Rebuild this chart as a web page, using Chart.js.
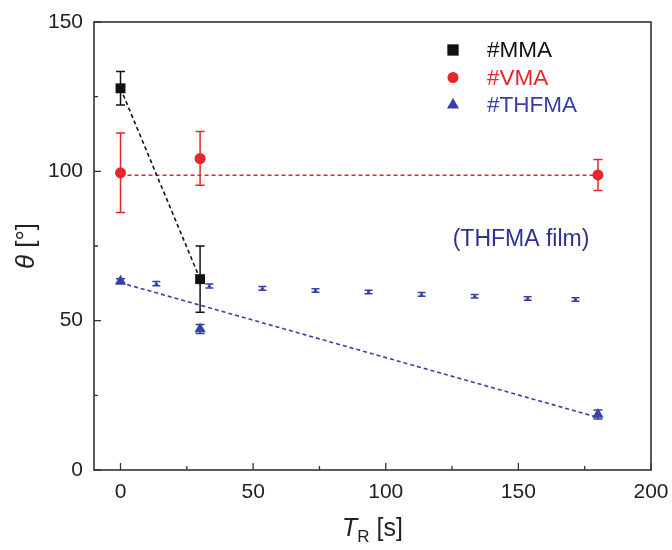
<!DOCTYPE html>
<html lang="en">
<head>
<meta charset="UTF-8">
<title>Contact angle vs reaction time</title>
<script src="https://cdn.jsdelivr.net/npm/chart.js"></script>
<style>
  html, body { margin: 0; padding: 0; background: #fff; }
</style>
</head>
<body>
<canvas id="chart" width="672" height="550"></canvas>
<script>
// reaction time T_R [s] and contact angle theta [deg]
const mmaX = [0, 30];
const mmaY = [127.8, 63.9];
const mmaErr = [5.6, 11.1];

const vmaX = [0, 30, 180];
const vmaY = [99.5, 104.3, 98.8];
const vmaErr = [13.3, 9.0, 5.2];

const thfmaX = [0, 30, 180];
const thfmaY = [63.2, 47.2, 18.6];
const thfmaErr = [0.8, 1.5, 1.5];

// THFMA film reference series
const filmX = [13.5, 33.5, 53.5, 73.5, 93.5, 113.5, 133.5, 153.5, 171.5];
const filmY = [62.4, 61.6, 60.8, 60.1, 59.6, 58.8, 58.2, 57.4, 57.1];
const filmErr = [0.7, 0.7, 0.6, 0.6, 0.6, 0.6, 0.6, 0.6, 0.6];

// dashed guide lines
const mmaFitX = [0, 30];
const mmaFitY = [127.8, 63.9];
const vmaFitX = [0, 180];
const vmaFitY = [98.7, 98.7];
const thfmaFitX = [0, 180];
const thfmaFitY = [62.7, 17.6];

const xTicks = [0, 50, 100, 150, 200];
const yTicks = [0, 50, 100, 150];
const xMinor = [25, 75, 125, 175];
const yMinor = [25, 75, 125];

const BLACK = '#111111';
const RED = '#e5262b';
const BLUE = '#3641a8';
const NAVY = '#2e3192';
const FONT = '"Liberation Sans", Arial, sans-serif';

function pts(xs, ys) {
    return xs.map((x, i) => ({ x: x, y: ys[i] }));
}

function dashed(xs, ys, color) {
    return {
        data: pts(xs, ys),
        showLine: true,
        borderColor: color,
        borderWidth: 1.6,
        borderDash: [4, 3],
        pointRadius: 0,
        order: 5
    };
}

// error bars drawn under the markers
const errorBars = {
    id: 'errorBars',
    beforeDatasetsDraw(chart) {
        const ctx = chart.ctx, ys = chart.scales.y;
        chart.data.datasets.forEach((ds, i) => {
            if (!ds.err) return;
            const meta = chart.getDatasetMeta(i);
            ctx.save();
            ctx.strokeStyle = ds.borderColor;
            ctx.lineWidth = 1.5;
            meta.data.forEach((p, j) => {
                const v = ds.data[j].y, e = ds.err[j];
                const top = ys.getPixelForValue(v + e), bot = ys.getPixelForValue(v - e);
                const w = ds.capWidth / 2;
                ctx.beginPath();
                ctx.moveTo(p.x, top); ctx.lineTo(p.x, bot);
                ctx.moveTo(p.x - w, top); ctx.lineTo(p.x + w, top);
                ctx.moveTo(p.x - w, bot); ctx.lineTo(p.x + w, bot);
                ctx.stroke();
            });
            ctx.restore();
        });
    }
};

function marker(ctx, style, x, y, r) {
    ctx.beginPath();
    if (style === 'rect') {
        const s = r * Math.SQRT1_2;
        ctx.rect(x - s, y - s, 2 * s, 2 * s);
    } else if (style === 'circle') {
        ctx.arc(x, y, r, 0, Math.PI * 2);
    } else {
        const w = r * Math.sqrt(3) / 2;
        ctx.moveTo(x, y - r);
        ctx.lineTo(x + w, y + r / 2);
        ctx.lineTo(x - w, y + r / 2);
        ctx.closePath();
    }
    ctx.fill();
}

// frame, inward ticks, axis titles, legend and annotation
const decor = {
    id: 'decor',
    afterDraw(chart) {
        const { ctx, chartArea: a, scales: { x, y } } = chart;
        ctx.save();
        ctx.strokeStyle = '#333';
        ctx.lineWidth = 1.6;
        ctx.strokeRect(a.left, a.top, a.right - a.left, a.bottom - a.top);

        ctx.lineWidth = 1.3;
        ctx.beginPath();
        xTicks.forEach(v => { const px = x.getPixelForValue(v); ctx.moveTo(px, a.bottom); ctx.lineTo(px, a.bottom - 7); });
        xMinor.forEach(v => { const px = x.getPixelForValue(v); ctx.moveTo(px, a.bottom); ctx.lineTo(px, a.bottom - 4); });
        yTicks.forEach(v => { const py = y.getPixelForValue(v); ctx.moveTo(a.left, py); ctx.lineTo(a.left + 7, py); });
        yMinor.forEach(v => { const py = y.getPixelForValue(v); ctx.moveTo(a.left, py); ctx.lineTo(a.left + 4, py); });
        ctx.stroke();

        // y title: theta [deg]
        ctx.fillStyle = '#222';
        ctx.textBaseline = 'middle';
        ctx.save();
        ctx.translate(27, (a.top + a.bottom) / 2);
        ctx.rotate(-Math.PI / 2);
        ctx.font = 'italic 26px ' + FONT;
        const th = 'θ', rest = ' [°]';
        const w1 = ctx.measureText(th).width;
        ctx.font = '26px ' + FONT;
        const w2 = ctx.measureText(rest).width;
        const sx = -(w1 + w2) / 2;
        ctx.textAlign = 'left';
        ctx.font = 'italic 26px ' + FONT;
        ctx.fillText(th, sx, 0);
        ctx.font = '26px ' + FONT;
        ctx.fillText(rest, sx + w1, 0);
        ctx.restore();

        // x title: T_R [s]
        const cx = (a.left + a.right) / 2, cy = 529;
        ctx.textAlign = 'left';
        ctx.font = 'italic 25px ' + FONT;
        const tw = ctx.measureText('T').width;
        ctx.font = '17px ' + FONT;
        const rw = ctx.measureText('R').width;
        ctx.font = '25px ' + FONT;
        const sw = ctx.measureText(' [s]').width;
        const tx = cx - (tw + rw + sw) / 2;
        ctx.font = 'italic 25px ' + FONT;
        ctx.fillText('T', tx, cy);
        ctx.font = '17px ' + FONT;
        ctx.fillText('R', tx + tw, cy + 8);
        ctx.font = '25px ' + FONT;
        ctx.fillText(' [s]', tx + tw + rw, cy);

        // legend
        let row = 0;
        chart.data.datasets.forEach(ds => {
            if (!ds.legend) return;
            const ly = a.top + 28 + row * 27.5;
            ctx.fillStyle = ds.backgroundColor;
            marker(ctx, ds.pointStyle, a.right - 198, ly, ds.legendRadius);
            ctx.font = '22.5px ' + FONT;
            ctx.textAlign = 'left';
            ctx.fillText(ds.label, a.right - 164, ly + 1);
            row++;
        });

        // annotation
        ctx.fillStyle = NAVY;
        ctx.font = '23px ' + FONT;
        ctx.textAlign = 'center';
        ctx.fillText('(THFMA film)', x.getPixelForValue(151), y.getPixelForValue(77));
        ctx.restore();
    }
};

new Chart(document.getElementById('chart'), {
    type: 'scatter',
    data: {
        datasets: [
            dashed(mmaFitX, mmaFitY, BLACK),
            dashed(vmaFitX, vmaFitY, RED),
            dashed(thfmaFitX, thfmaFitY, BLUE),
            {
                label: '#MMA', legend: true, legendRadius: 8,
                data: pts(mmaX, mmaY), err: mmaErr, capWidth: 9,
                pointStyle: 'rect', pointRadius: 7,
                backgroundColor: BLACK, borderColor: BLACK, borderWidth: 0, order: 1
            },
            {
                label: '#VMA', legend: true, legendRadius: 5.5,
                data: pts(vmaX, vmaY), err: vmaErr, capWidth: 9,
                pointStyle: 'circle', pointRadius: 5.5,
                backgroundColor: RED, borderColor: RED, borderWidth: 0, order: 1
            },
            {
                label: '#THFMA', legend: true, legendRadius: 7,
                data: pts(thfmaX, thfmaY), err: thfmaErr, capWidth: 9,
                pointStyle: 'triangle', pointRadius: 6.5,
                backgroundColor: BLUE, borderColor: BLUE, borderWidth: 0, order: 1
            },
            {
                label: 'THFMA film',
                data: pts(filmX, filmY), err: filmErr, capWidth: 8,
                pointStyle: 'triangle', pointRadius: 2.5,
                backgroundColor: BLUE, borderColor: BLUE, borderWidth: 0, order: 1
            }
        ]
    },
    options: {
        responsive: false,
        animation: false,
        layout: { padding: { top: 22, right: 21, left: 0, bottom: 0 } },
        plugins: { legend: { display: false }, tooltip: { enabled: false } },
        scales: {
            x: {
                type: 'linear', min: -10, max: 200,
                afterBuildTicks: s => { s.ticks = xTicks.map(v => ({ value: v })); },
                afterFit: s => { s.height = 80; s.paddingLeft = 0; s.paddingRight = 0; },
                grid: { display: false, drawTicks: false },
                border: { display: false },
                ticks: { padding: 10, maxRotation: 0, color: '#222', font: { family: FONT, size: 21 } }
            },
            y: {
                type: 'linear', min: 0, max: 150,
                afterBuildTicks: s => { s.ticks = yTicks.map(v => ({ value: v })); },
                afterFit: s => { s.width = 94; s.paddingTop = 0; s.paddingBottom = 0; },
                grid: { display: false, drawTicks: false },
                border: { display: false },
                ticks: { padding: 11, color: '#222', font: { family: FONT, size: 21 } }
            }
        }
    },
    plugins: [errorBars, decor]
});
</script>
</body>
</html>
